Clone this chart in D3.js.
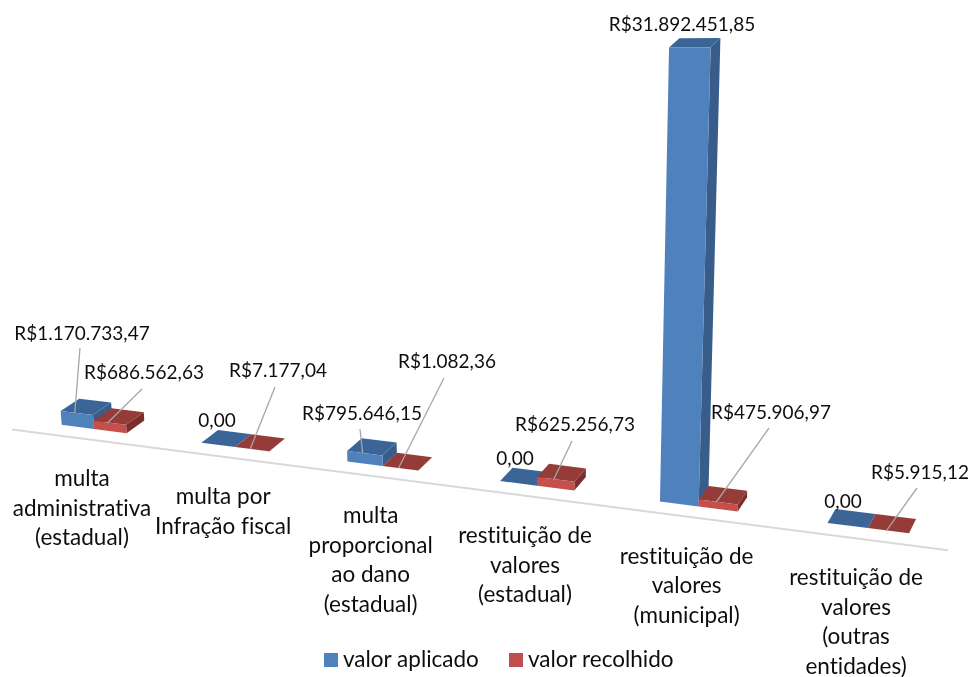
<!DOCTYPE html>
<html>
<head>
<meta charset="utf-8">
<script src="https://cdn.jsdelivr.net/npm/d3@7"></script>
<style>
  html, body { margin: 0; padding: 0; background: #fff; overflow: hidden; }
  text { font-family: Lato, "Open Sans", sans-serif; fill: #111; font-variant-ligatures: none; }
</style>
</head>
<body>
<svg width="969" height="677"></svg>
<script>
var categories = ["a", "b", "c", "d", "e", "f"];
var categoryLines = [
  ["multa", "administrativa", "(estadual)"],
  ["multa por", "Infração fiscal"],
  ["multa", "proporcional", "ao dano", "(estadual)"],
  ["restituição de", "valores", "(estadual)"],
  ["restituição de", "valores", "(municipal)"],
  ["restituição de", "valores", "(outras", "entidades)"]
];
var seriesNames = ["valor aplicado", "valor recolhido"];
var aplicado = [1170733.47, 0, 795646.15, 0, 31892451.85, 0];
var recolhido = [686562.63, 7177.04, 1082.36, 625256.73, 475906.97, 5915.12];
var aplicadoLabels = ["R$1.170.733,47", "0,00", "R$795.646,15", "0,00", "R$31.892.451,85", "0,00"];
var recolhidoLabels = ["R$686.562,63", "R$7.177,04", "R$1.082,36", "R$625.256,73", "R$475.906,97", "R$5.915,12"];

// where the labels were dragged to, [centre x, centre y, leader x, leader y]
var aplicadoLabelPos = [[82, 333, 80, 348], [217, 420], [362, 413, 360, 429], [515, 458], [682, 24], [843, 501]];
var recolhidoLabelPos = [[144, 372, 142, 389], [278, 370, 275, 387], [447, 361, 444, 378], [575, 424, 572, 441], [771, 412, 769, 428], [920, 472, 917, 488]];

var colors = [
  {front: "#4f81bd", top: "#3b6596", side: "#375d8b"},
  {front: "#c5504b", top: "#953a38", side: "#7c2f2d"}
];

var svg = d3.select("svg");

var defs = svg.append("defs");
defs.append("filter").attr("id", "soft")
    .append("feGaussianBlur").attr("stdDeviation", 0.7);
defs.append("filter").attr("id", "softText")
    .append("feGaussianBlur").attr("stdDeviation", 0.3);

var outer = d3.scalePoint().domain(categories).range([0, 5]);
var inner = d3.scaleBand().domain(seriesNames).range([-0.235, 0.235]);
var heightScale = d3.scaleLinear().domain([0, d3.max(aplicado)]).range([0, 459]);

// chart is tilted, so the category axis is foreshortened towards the left
var C = -0.02155;
function xFront(u) { return (136.1 * u + 94) / (C * u + 1); }
function yFront(x) { return 429 + 0.128 * (x - 94); }
function persp(u) { return Math.pow((C * 4 + 1) / (C * u + 1), 2); }

// u along the axis, w = 0 front / 1 back, v is the value
function project(u, w, v) {
  var x = xFront(u),
      y = yFront(x),
      h = heightScale(v) * persp(u);
  var dx = (19.4 - 0.01375 * x) * w,
      dy = -(12.3 + 0.002 * x) * w * (1 - h * 0.0007);
  return [x + dx + (x - 535) * 0.00016 * h, y + dy - h];
}

function poly(points) {
  return points.map(function(p) { return p.map(function(n) { return n.toFixed(2); }).join(","); }).join(" ");
}

// axis line
var axisEnds = [-0.601, 5.456];
svg.append("line")
    .attr("x1", xFront(axisEnds[0]))
    .attr("y1", yFront(xFront(axisEnds[0])) + 11)
    .attr("x2", xFront(axisEnds[1]))
    .attr("y2", yFront(xFront(axisEnds[1])) + 12)
    .attr("stroke", "#d9d9d9")
    .attr("stroke-width", 2);

var bars = [];
categories.forEach(function(c, i) {
  [aplicado, recolhido].forEach(function(vals, s) {
    var u0 = outer(c) + inner(seriesNames[s]);
    bars.push({u0: u0, u1: u0 + inner.bandwidth(), v: vals[i], s: s});
  });
});

var barG = svg.append("g").attr("filter", "url(#soft)")
  .selectAll("g").data(bars).enter().append("g");

barG.append("polygon")
    .attr("points", function(d) {
      return poly([project(d.u1, 0, 0), project(d.u1, 1, 0), project(d.u1, 1, d.v), project(d.u1, 0, d.v)]);
    })
    .attr("fill", function(d) { return colors[d.s].side; });

barG.append("polygon")
    .attr("points", function(d) {
      return poly([project(d.u0, 0, d.v), project(d.u0, 1, d.v), project(d.u1, 1, d.v), project(d.u1, 0, d.v)]);
    })
    .attr("fill", function(d) { return colors[d.s].top; });

barG.append("polygon")
    .attr("points", function(d) {
      return poly([project(d.u0, 0, 0), project(d.u0, 0, d.v), project(d.u1, 0, d.v), project(d.u1, 0, 0)]);
    })
    .attr("fill", function(d) { return colors[d.s].front; });

var leaderG = svg.append("g");
var textG = svg.append("g").attr("filter", "url(#softText)");

// data labels and leaders
function drawLabels(labels, pos, vals, s) {
  labels.forEach(function(t, i) {
    var p = pos[i];
    if (p.length > 2) {
      var u = outer(categories[i]) + inner(seriesNames[s]) + inner.bandwidth() / 2;
      var end = project(u, 0, vals[i]);
      leaderG.append("line")
          .attr("x1", p[2]).attr("y1", p[3])
          .attr("x2", end[0] - 2).attr("y2", end[1])
          .attr("stroke", "#a6a6a6")
          .attr("stroke-width", 1.3);
    }
    textG.append("text")
        .attr("x", p[0]).attr("y", p[1])
        .attr("dy", "0.35em")
        .attr("text-anchor", "middle")
        .attr("font-size", 19)
        .text(t);
  });
}
drawLabels(aplicadoLabels, aplicadoLabelPos, aplicado, 0);
drawLabels(recolhidoLabels, recolhidoLabelPos, recolhido, 1);

// category labels hang off the axis line
categoryLines.forEach(function(lines, i) {
  var x = xFront(outer(categories[i])) - 12;
  var y = yFront(x) + 11 + 40;
  lines.forEach(function(l, k) {
    textG.append("text")
        .attr("x", x).attr("y", y + k * 29.5)
        .attr("dy", "0.35em")
        .attr("text-anchor", "middle")
        .attr("font-size", 22.5)
        .text(l);
  });
});

// legend
var legendX = [324, 509];
seriesNames.forEach(function(n, i) {
  svg.append("rect")
      .attr("x", legendX[i]).attr("y", 653)
      .attr("width", 14).attr("height", 14)
      .attr("fill", i ? "#c0504d" : colors[i].front);
  textG.append("text")
      .attr("x", legendX[i] + 19).attr("y", 659)
      .attr("dy", "0.35em")
      .attr("font-size", 22.5)
      .text(n);
});
</script>
</body>
</html>
